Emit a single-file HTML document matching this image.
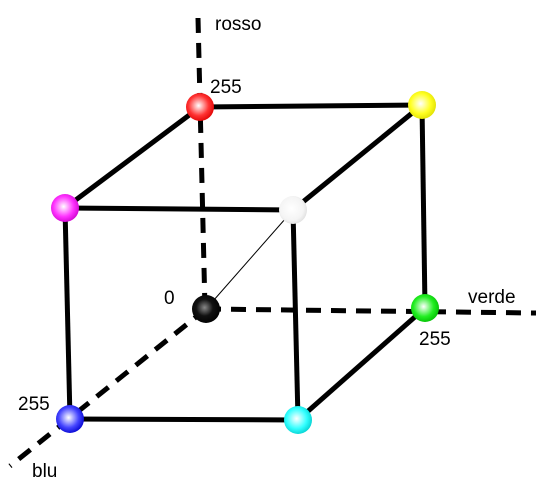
<!DOCTYPE html>
<html><head><meta charset="utf-8"><style>
html,body{margin:0;padding:0;background:#fff;}
svg text{font-family:"Liberation Sans",sans-serif;font-size:19px;fill:#000;}
</style></head><body>
<svg width="536" height="487" viewBox="0 0 536 487">
<defs>
<radialGradient id="gr" cx="0.45" cy="0.45" r="0.6"><stop offset="0" stop-color="#fff"/><stop offset="0.6" stop-color="#f33"/><stop offset="1" stop-color="#d00"/></radialGradient>
<radialGradient id="gy" cx="0.45" cy="0.45" r="0.6"><stop offset="0" stop-color="#fff"/><stop offset="0.6" stop-color="#ff2"/><stop offset="1" stop-color="#dd0"/></radialGradient>
<radialGradient id="gg" cx="0.45" cy="0.45" r="0.6"><stop offset="0" stop-color="#fff"/><stop offset="0.6" stop-color="#2e2"/><stop offset="1" stop-color="#0b0"/></radialGradient>
<radialGradient id="gm" cx="0.45" cy="0.45" r="0.6"><stop offset="0" stop-color="#fff"/><stop offset="0.6" stop-color="#f3f"/><stop offset="1" stop-color="#c0c"/></radialGradient>
<radialGradient id="gw" cx="0.45" cy="0.45" r="0.6"><stop offset="0" stop-color="#fff"/><stop offset="0.7" stop-color="#f4f4f4"/><stop offset="1" stop-color="#ddd"/></radialGradient>
<radialGradient id="gb" cx="0.45" cy="0.45" r="0.6"><stop offset="0" stop-color="#fff"/><stop offset="0.6" stop-color="#44f"/><stop offset="1" stop-color="#00c"/></radialGradient>
<radialGradient id="gc" cx="0.45" cy="0.45" r="0.6"><stop offset="0" stop-color="#fff"/><stop offset="0.6" stop-color="#3ff"/><stop offset="1" stop-color="#0cc"/></radialGradient>
<radialGradient id="gk" cx="0.45" cy="0.45" r="0.6"><stop offset="0" stop-color="#888"/><stop offset="0.5" stop-color="#111"/><stop offset="1" stop-color="#000"/></radialGradient>
</defs>
<g stroke="#000" stroke-width="5" stroke-dasharray="15,10" fill="none">
<line x1="198" y1="18" x2="205" y2="309"/>
<line x1="206" y1="309" x2="536" y2="313"/>
<line x1="206" y1="309" x2="10" y2="466"/>
</g>
<line x1="206" y1="309" x2="293" y2="210" stroke="#000" stroke-width="1"/>
<g stroke="#000" stroke-width="5" fill="none">
<line x1="200" y1="107" x2="422" y2="105"/>
<line x1="200" y1="107" x2="65" y2="208"/>
<line x1="422" y1="105" x2="293" y2="210"/>
<line x1="422" y1="105" x2="425" y2="308"/>
<line x1="65" y1="208" x2="293" y2="210"/>
<line x1="65" y1="208" x2="70" y2="419"/>
<line x1="293" y1="210" x2="298" y2="420"/>
<line x1="70" y1="419" x2="298" y2="420"/>
<line x1="298" y1="420" x2="425" y2="308"/>
</g>
<circle cx="206" cy="309" r="14" fill="url(#gk)"/>
<circle cx="200" cy="107" r="14" fill="url(#gr)"/>
<circle cx="422" cy="105" r="14" fill="url(#gy)"/>
<circle cx="425" cy="308" r="14" fill="url(#gg)"/>
<circle cx="65" cy="208" r="14" fill="url(#gm)"/>
<circle cx="293" cy="210" r="14" fill="url(#gw)"/>
<circle cx="70" cy="419" r="14" fill="url(#gb)"/>
<circle cx="298" cy="420" r="14" fill="url(#gc)"/>
<text x="215" y="30">rosso</text>
<text x="210" y="93">255</text>
<text x="164" y="304">0</text>
<text x="468" y="303">verde</text>
<text x="419" y="345">255</text>
<text x="18" y="410">255</text>
<text x="32" y="477">blu</text>
</svg>
</body></html>
